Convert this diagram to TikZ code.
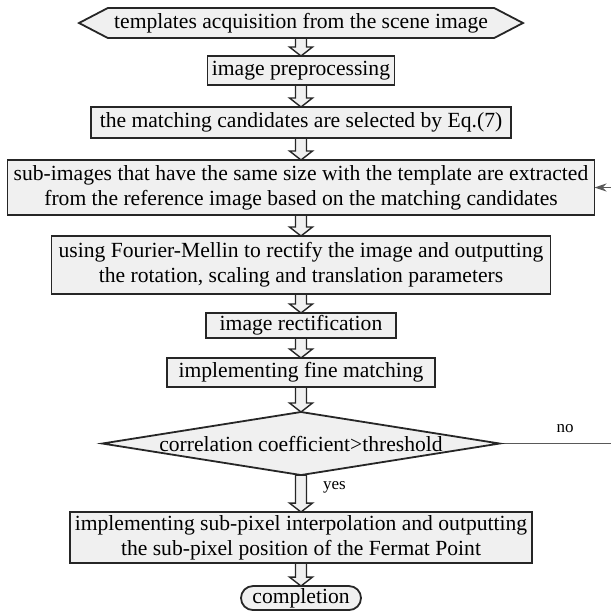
\documentclass[tikz,border=0pt]{standalone}
\usepackage{fontspec}
\setmainfont{Liberation Serif}
\usetikzlibrary{shapes, arrows.meta, positioning, calc}

\begin{document}
\begin{tikzpicture}[
    x=0.5pt, y=-0.5pt,
    node distance=10.5pt,
    font=\fontsize{10.8}{12.4}\selectfont,
    mybox/.style={draw=black!85, line width=0.9pt, fill=gray!12, align=center, inner xsep=1pt, inner ysep=0.5pt, outer sep=0pt},
    myhex/.style={mybox, signal, signal to=west and east, signal pointer angle=55},
    mydiam/.style={mybox, diamond, aspect=6.3},
    myend/.style={mybox, rounded rectangle},
    mylabel/.style={font=\fontsize{8.5}{10}\selectfont},
    myarrow/.style={draw=black!85, line width=0.7pt, fill=gray!12,
        to path={let \p1=(\tikztostart), \p2=(\tikztotarget) in
            (\x1-2.75pt,\y1) -- (\x1-2.75pt,\y2+4.5pt) -- (\x1-5.75pt,\y2+4.5pt) -- (\x1,\y2)
            -- (\x1+5.75pt,\y2+4.5pt) -- (\x1+2.75pt,\y2+4.5pt) -- (\x1+2.75pt,\y1) -- cycle}},
    myloop/.style={-{Stealth[length=6pt,width=4pt]}, draw=gray!70!black, line width=0.6pt},
]

% Define layers
\pgfdeclarelayer{background}
\pgfsetlayers{background,main}

\useasboundingbox (0,0) rectangle (611,612);

% Nodes
\node[myhex, minimum width=222pt, minimum height=15pt] (acquire) at (301,23) {templates acquisition from the scene image};
\node[mybox, minimum width=93.5pt, minimum height=14.5pt, below=9pt of acquire] (prep) {image preprocessing};
\node[mybox, minimum width=210pt, minimum height=15.5pt, below=11pt of prep] (select) {the matching candidates are selected by Eq.(7)};
\node[mybox, minimum width=293.5pt, minimum height=27.5pt, below=11pt of select] (extract) {sub-images that have the same size with the template are extracted\\from the reference image based on the matching candidates};
\node[mybox, minimum width=249.5pt, minimum height=29pt, below=10.5pt of extract] (fourier) {using Fourier-Mellin to rectify the image and outputting\\the rotation, scaling and translation parameters};
\node[mybox, minimum width=95pt, minimum height=12.5pt, below=9.5pt of fourier] (rectify) {image rectification};
\node[mybox, minimum width=134pt, minimum height=14.5pt, below=10pt of rectify] (fine) {implementing fine matching};
\node[mydiam, minimum width=196.5pt, minimum height=31pt, below=12.5pt of fine] (check) {correlation coefficient>threshold};
\node[mybox, minimum width=231pt, minimum height=25.5pt, below=18.5pt of check] (subpix) {implementing sub-pixel interpolation and outputting\\the sub-pixel position of the Fermat Point};
\node[myend, minimum width=62pt, minimum height=12pt, below=11.5pt of subpix] (done) {completion};

% text nodes
\node[mylabel, anchor=west] (yeslab) at (316,487) {yes};
\node[mylabel] (nolab) at (565,429) {no};
\coordinate (edge) at (618,0);

% Draw the arrows in the background layer
\begin{pgfonlayer}{background}
    \draw[myarrow] (acquire.south) to (prep.north);
    \draw[myarrow] (prep.south) to (select.north);
    \draw[myarrow] (select.south) to (extract.north);
    \draw[myarrow] (extract.south) to (fourier.north);
    \draw[myarrow] (fourier.south) to (rectify.north);
    \draw[myarrow] (rectify.south) to (fine.north);
    \draw[myarrow] (fine.south) to (check.north);
    \draw[myarrow] (check.south) to (subpix.north);
    \draw[myarrow] (subpix.south) to (done.north);
    \draw[myloop] (check.east) -- (check.east -| edge) -- (extract.east -| edge) -- (extract.east);
\end{pgfonlayer}

\end{tikzpicture}
\end{document}
